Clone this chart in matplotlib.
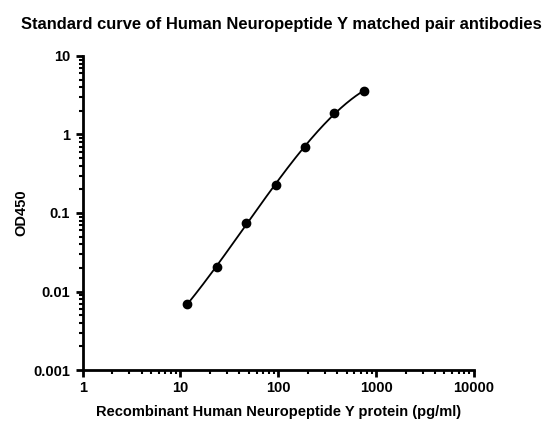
import numpy as np
import matplotlib
matplotlib.use("Agg")
import matplotlib.pyplot as plt
from matplotlib.ticker import LogLocator, FixedLocator, NullFormatter

plt.rcParams['font.family'] = ['Liberation Sans', 'DejaVu Sans']

title = "Standard curve of Human Neuropeptide Y matched pair antibodies"
xlabel = "Recombinant Human Neuropeptide Y protein (pg/ml)"
ylabel = "OD450"
conc = [11.72, 23.44, 46.88, 93.75, 187.5, 375, 750]
od = [0.0069, 0.0206, 0.074, 0.229, 0.70, 1.87, 3.6]
xticks = [1, 10, 100, 1000, 10000]
xticklabels = ["1", "10", "100", "1000", "10000"]
yticks = [0.001, 0.01, 0.1, 1, 10]
yticklabels = ["0.001", "0.01", "0.1", "1", "10"]

fig = plt.figure(figsize=(5.53, 4.37), dpi=100)
ax = fig.add_axes([0.1495, 0.1533, 0.857 - 0.1495, 0.8719 - 0.1533])

# smooth fitted curve in log-log space
lx = np.log10(conc)
ly = np.log10(od)
coef = np.polyfit(lx, ly, 3)
xs = np.linspace(lx[0], lx[-1], 200)
ax.plot(10**xs, 10**np.polyval(coef, xs), color='black', lw=1.3, zorder=2)
ax.plot(conc, od, 'o', color='black', ms=6, zorder=3)

ax.set_xscale('log')
ax.set_yscale('log')
ax.set_xlim(1, 10000)
ax.set_ylim(0.001, 10)
ax.xaxis.set_major_locator(FixedLocator(xticks))
ax.set_xticklabels(xticklabels)
ax.yaxis.set_major_locator(FixedLocator(yticks))
ax.set_yticklabels(yticklabels)
ax.xaxis.set_minor_locator(LogLocator(base=10, subs=np.arange(2, 10)))
ax.yaxis.set_minor_locator(LogLocator(base=10, subs=np.arange(2, 10)))
ax.xaxis.set_minor_formatter(NullFormatter())
ax.yaxis.set_minor_formatter(NullFormatter())

for s in ['top', 'right']:
    ax.spines[s].set_visible(False)
for s in ['left', 'bottom']:
    ax.spines[s].set_linewidth(2)
ax.tick_params(which='major', length=5, width=2, labelsize=10.5)
ax.tick_params(axis='y', which='major', pad=4)
ax.tick_params(axis='x', which='major', pad=3)
ax.tick_params(which='minor', length=3, width=1.5)
for lab in ax.get_xticklabels() + ax.get_yticklabels():
    lab.set_fontweight('bold')

ax.set_xlabel(xlabel, fontsize=10.5, fontweight='bold', labelpad=7)
ax.set_ylabel(ylabel, fontsize=10.5, fontweight='bold')
ax.yaxis.set_label_coords(-0.14, 0.5)
fig.text(0.5 + 4.5 / 553, 1 - 29 / 437, title, ha='center', va='baseline', fontsize=11.9, fontweight='bold')

fig.savefig('out.png', dpi=100)
